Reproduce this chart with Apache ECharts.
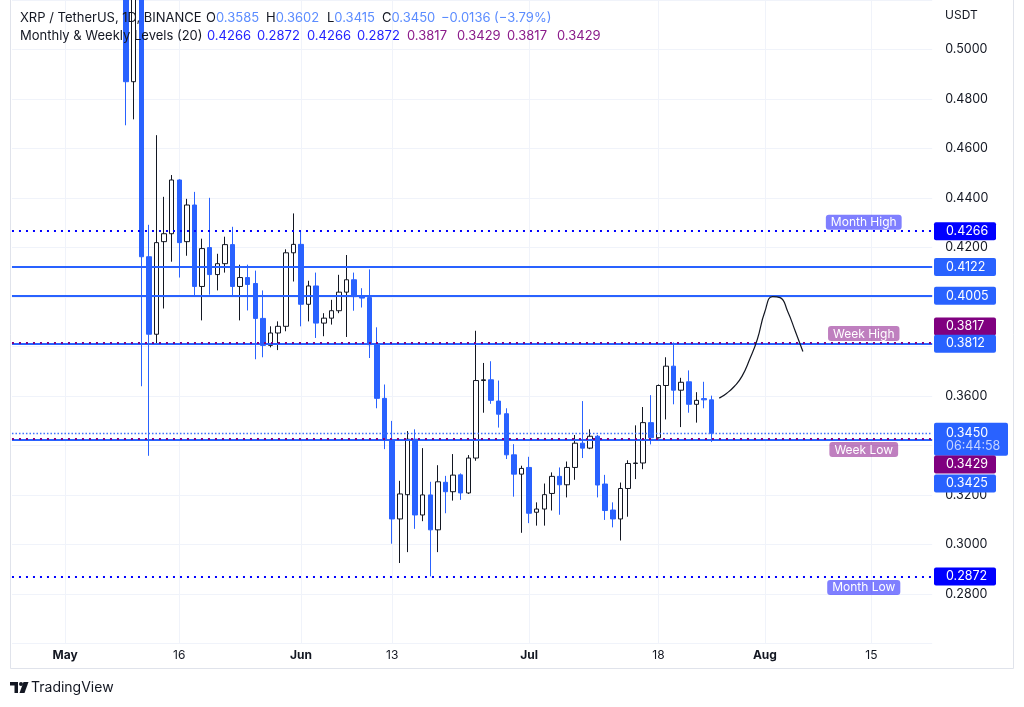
<!DOCTYPE html>
<html><head><meta charset="utf-8">
<script src="https://cdn.jsdelivr.net/npm/echarts@6/dist/echarts.min.js"></script>
<style>html,body{margin:0;padding:0;background:#fff}#c{width:1024px;height:707px}</style>
</head><body><div id="c"></div>
<script>
// ---------- data ----------
const axisStart = '2022-04-24';
const axisEnd = '2022-08-23';
const candleStart = '2022-05-09';
// daily candles [open, high, low, close], consecutive days from candleStart
const ohlc = [
[0.5600,0.5750,0.4694,0.4870],[0.4870,0.5600,0.4718,0.5400],[0.5400,0.5550,0.3640,0.4163],
[0.4163,0.4292,0.3359,0.3850],[0.3850,0.4654,0.3809,0.4220],[0.4224,0.4405,0.3954,0.4256],
[0.4256,0.4493,0.4143,0.4473],[0.4473,0.4476,0.4079,0.4220],[0.4224,0.4397,0.4167,0.4372],
[0.4372,0.4425,0.4006,0.4043],[0.4043,0.4236,0.3906,0.4196],[0.4200,0.4401,0.4010,0.4091],
[0.4091,0.4175,0.4027,0.4135],[0.4135,0.4244,0.4099,0.4212],[0.4212,0.4284,0.4002,0.4043],
[0.4043,0.4131,0.3906,0.4079],[0.4079,0.4131,0.3946,0.4051],[0.4055,0.4107,0.3749,0.3914],
[0.3914,0.4027,0.3757,0.3805],[0.3805,0.3882,0.3797,0.3855],[0.3855,0.3902,0.3786,0.3882],
[0.3882,0.4193,0.3862,0.4179],[0.4179,0.4338,0.4063,0.4213],[0.4213,0.4266,0.3882,0.3971],
[0.3971,0.4066,0.3902,0.4045],[0.4045,0.4099,0.3835,0.3895],[0.3895,0.3935,0.3842,0.3915],
[0.3915,0.3989,0.3889,0.3945],[0.3945,0.4090,0.3935,0.4020],[0.4020,0.4170,0.3839,0.4070],
[0.4070,0.4099,0.3945,0.4002],[0.4002,0.4036,0.3958,0.3996],[0.3998,0.4112,0.3754,0.3808],
[0.3808,0.3878,0.3551,0.3591],[0.3591,0.3647,0.3386,0.3422],[0.3422,0.3500,0.3004,0.3104],
[0.3104,0.3258,0.2926,0.3205],[0.3202,0.3459,0.2970,0.3426],[0.3426,0.3466,0.3064,0.3120],
[0.3120,0.3390,0.3095,0.3201],[0.3201,0.3254,0.2872,0.3060],[0.3060,0.3321,0.2970,0.3254],
[0.3252,0.3278,0.3127,0.3214],[0.3214,0.3366,0.3178,0.3281],[0.3282,0.3288,0.3181,0.3209],
[0.3209,0.3362,0.3205,0.3350],[0.3350,0.3864,0.3339,0.3663],[0.3663,0.3734,0.3533,0.3666],
[0.3666,0.3741,0.3569,0.3583],[0.3580,0.3663,0.3473,0.3527],[0.3529,0.3551,0.3346,0.3363],
[0.3363,0.3406,0.3194,0.3285],[0.3285,0.3319,0.3048,0.3308],[0.3312,0.3355,0.3087,0.3127],
[0.3131,0.3171,0.3077,0.3144],[0.3144,0.3247,0.3077,0.3202],[0.3207,0.3292,0.3138,0.3276],
[0.3276,0.3312,0.3121,0.3242],[0.3242,0.3336,0.3191,0.3312],[0.3312,0.3443,0.3262,0.3410],
[0.3410,0.3580,0.3350,0.3390],[0.3390,0.3466,0.3386,0.3438],[0.3438,0.3443,0.3191,0.3241],
[0.3245,0.3282,0.3100,0.3138],[0.3140,0.3171,0.3070,0.3104],[0.3104,0.3251,0.3017,0.3227],
[0.3227,0.3341,0.3113,0.3328],[0.3328,0.3482,0.3265,0.3330],[0.3330,0.3556,0.3305,0.3493],
[0.3493,0.3604,0.3405,0.3432],[0.3432,0.3647,0.3429,0.3643],[0.3643,0.3757,0.3506,0.3721],
[0.3721,0.3817,0.3567,0.3624],[0.3624,0.3674,0.3475,0.3656],[0.3658,0.3704,0.3533,0.3567],
[0.3567,0.3616,0.3493,0.3583],[0.3590,0.3658,0.3551,0.3585],[0.3585,0.3602,0.3415,0.3450]
];
const xTickDates = ['2022-05-01','2022-05-16','2022-06-01','2022-06-13','2022-07-01','2022-07-18','2022-08-01','2022-08-15'];
const xTickLabels = ['May','16','Jun','13','Jul','18','Aug','15'];
const xTickBold = [true,false,true,false,true,false,true,false];

const levelValues = [0.4122, 0.4005, 0.3812, 0.3425, 0.3450, 0.4266, 0.2872, 0.3817, 0.3429];
const levelKinds  = ['solid','solid','solid','solid','price','month','month','week','week'];

const annotDate = '2022-08-14';
const annotNames  = ['Month High','Week High','Week Low','Month Low'];
const annotValues = [0.4266, 0.3817, 0.3429, 0.2872];

const tagValues = [0.4266, 0.4122, 0.4005, 0.3817, 0.3812, 0.3450, 0.3429, 0.3425, 0.2872];
const tagKinds  = ['month','solid','solid','week','solid','price','week','solid','month'];
const tagShift  = [0, 0, 0, -16, 0, 0, 26, 44, 0];
const countdown = '06:44:58';

const drawDates  = ['2022-07-26','2022-07-27','2022-07-28','2022-07-29','2022-07-30','2022-07-31','2022-08-01','2022-08-02','2022-08-03','2022-08-04','2022-08-05','2022-08-06'];
const drawPrices = [0.3592,0.3612,0.3640,0.3681,0.3749,0.3829,0.3942,0.4002,0.3998,0.3942,0.3862,0.3780];

// ---------- build ----------
function dayList(a, b) {
  const out = []; let d = Date.parse(a + 'T00:00:00Z'); const e = Date.parse(b + 'T00:00:00Z');
  while (d <= e) { out.push(new Date(d).toISOString().slice(0, 10)); d += 86400000; }
  return out;
}
const categories = dayList(axisStart, axisEnd);
const c0 = categories.indexOf(candleStart);
const candleData = categories.map(() => '-');
ohlc.forEach((r, i) => { candleData[c0 + i] = [r[0], r[3], r[2], r[1]]; });
const drawData = drawDates.map((d, i) => [d, drawPrices[i]]);

const BLUE = '#2962ff', MBLUE = '#0000ff', PURPLE = '#800080', INK = '#131722', GRID = '#f0f3fa';
const FONT = 'Inter, "Noto Sans", sans-serif';
const lineStyleOf = {
  solid: { color: BLUE, width: 2, type: 'solid' },
  price: { color: '#3a70ff', width: 1.4, type: [1.5, 2] },
  month: { color: MBLUE, width: 2, type: [2, 5] },
  week:  { color: PURPLE, width: 2, type: [2, 5] }
};
const tagBg = { solid: BLUE, price: BLUE, month: MBLUE, week: PURPLE };
const annotBg = ['rgba(0,0,255,0.5)', 'rgba(128,0,128,0.5)', 'rgba(128,0,128,0.5)', 'rgba(0,0,255,0.5)'];
const annotPos = ['top', 'top', 'bottom', 'bottom'];

const isTick = (v) => xTickDates.indexOf(v) >= 0;

const chart = echarts.init(document.getElementById('c'), null, { renderer: 'canvas' });
const option = {
  animation: false,
  backgroundColor: '#ffffff',
  grid: { left: 11.97, right: 91.8, top: -2.73, bottom: 63.27, containLabel: false },
  xAxis: {
    type: 'category', data: categories, boundaryGap: false,
    axisLine: { show: false }, axisTick: { show: false },
    axisLabel: {
      interval: (i, v) => isTick(v), margin: 6, color: INK, fontSize: 12, fontFamily: FONT,
      formatter: (v) => { const k = xTickDates.indexOf(v); return xTickBold[k] ? '{b|' + xTickLabels[k] + '}' : xTickLabels[k]; },
      rich: { b: { fontWeight: 'bold', fontSize: 12, color: INK, fontFamily: FONT } }
    },
    splitLine: { show: true, interval: (i, v) => isTick(v), lineStyle: { color: GRID, width: 1 } }
  },
  yAxis: {
    type: 'value', position: 'right', min: 0.26, max: 0.52, interval: 0.02, scale: true,
    axisLine: { show: false }, axisTick: { show: false },
    axisLabel: { margin: 13, color: INK, fontSize: 12.5, fontFamily: FONT, showMinLabel: false, showMaxLabel: false,
      formatter: (v) => v.toFixed(4) },
    splitLine: { lineStyle: { color: GRID, width: 1 } }
  },
  series: [
    {
      type: 'candlestick', data: candleData, barWidth: 5, clip: true,
      itemStyle: { color: '#ffffff', color0: BLUE, borderColor: INK, borderColor0: BLUE, borderColorDoji: INK, borderWidth: 1 },
      markLine: {
        silent: true, symbol: ['none', 'none'], label: { show: false }, animation: false, precision: 6,
        emphasis: { disabled: true },
        data: levelValues.map((v, i) => ({ yAxis: v, lineStyle: lineStyleOf[levelKinds[i]] }))
      },
      markPoint: {
        silent: true, symbol: 'rect', symbolSize: 1, itemStyle: { color: 'rgba(0,0,0,0)' }, animation: false, precision: 6,
        data: annotNames.map((n, i) => ({
          coord: [annotDate, annotValues[i]],
          label: { show: true, formatter: n, position: annotPos[i], distance: annotPos[i] === 'top' ? 1 : 3,
            backgroundColor: annotBg[i], color: '#ffffff', borderRadius: 3, padding: [2, 5, 1, 5],
            fontSize: 12, fontFamily: FONT }
        }))
      }
    },
    {
      type: 'line', data: drawData, smooth: 0.5, symbol: 'none', silent: true,
      lineStyle: { color: INK, width: 1.2 }, z: 5
    }
  ]
};
chart.setOption(option);

// ---------- overlays: header, axis tags, frame ----------
const gy = (v) => chart.convertToPixel({ yAxisIndex: 0 }, v);
const g = [];
const txt = (x, y, s, fill, size, weight) => g.push({ type: 'text', x: x, y: y, z: 100,
  style: { text: s, fill: fill, fontSize: size || 13, fontFamily: FONT, fontWeight: weight || 'normal', verticalAlign: 'middle' } });

// frame
g.push({ type: 'polyline', z: 90, shape: { points: [[10.5, 0], [10.5, 668.5], [1013.5, 668.5], [1013.5, 0]] },
  style: { stroke: '#e0e3eb', lineWidth: 1, fill: null } });

// header
const VAL = '#5b8cff';
txt(20, 18, 'XRP / TetherUS, 1D, BINANCE', INK);
const ohlcHdr = [['O', '0.3585', 206], ['H', '0.3602', 266], ['L', '0.3415', 327], ['C', '0.3450', 382]];
ohlcHdr.forEach(([k, v, x]) => g.push({ type: 'text', x: x, y: 18, z: 100,
  style: { text: '{k|' + k + '}{v|' + v + '}', verticalAlign: 'middle', fontSize: 13, fontFamily: FONT,
    rich: { k: { fill: INK, fontSize: 13, fontFamily: FONT }, v: { fill: VAL, fontSize: 13, fontFamily: FONT } } } }));
txt(441, 18, '\u22120.0136 (\u22123.79%)', VAL);
txt(20, 36, 'Monthly & Weekly Levels (20)', INK);
const hdrLevels = ['0.4266', '0.2872', '0.4266', '0.2872', '0.3817', '0.3429', '0.3817', '0.3429'];
hdrLevels.forEach((s, i) => txt(207 + i * 50, 36, s, i < 4 ? '#1f1fff' : '#8a1a8a'));
txt(945, 15, 'USDT', INK, 12);

// price-axis tags
const tagX = 934;
tagValues.forEach((v, i) => {
  const y = gy(v) + tagShift[i];
  const kind = tagKinds[i];
  if (kind === 'price') {
    g.push({ type: 'rect', z: 100, shape: { x: tagX, y: y - 10.5, width: 74, height: 33, r: 2 }, style: { fill: tagBg[kind] } });
    txt(946, y, v.toFixed(4), '#ffffff', 12.5);
    txt(946, y + 13, countdown, '#c6d5ff', 12.5);
  } else {
    g.push({ type: 'rect', z: 100, shape: { x: tagX, y: y - 9, width: 62, height: 18, r: 2 }, style: { fill: tagBg[kind] } });
    txt(946, y, v.toFixed(4), '#ffffff', 12.5);
  }
});

// TradingView logo
g.push({ type: 'group', x: 10, y: 682, z: 100, children: [
  { type: 'rect', shape: { x: 0, y: 0, width: 8, height: 3.5 }, style: { fill: INK } },
  { type: 'rect', shape: { x: 4.5, y: 0, width: 3.5, height: 11 }, style: { fill: INK } },
  { type: 'circle', shape: { cx: 11, cy: 2, r: 2 }, style: { fill: INK } },
  { type: 'polygon', shape: { points: [[13.5, 0], [18.5, 0], [14.5, 11], [9.5, 11]] }, style: { fill: INK } }
] });
txt(31, 688, 'TradingView', INK, 14);

chart.setOption({ graphic: g });
</script></body></html>
